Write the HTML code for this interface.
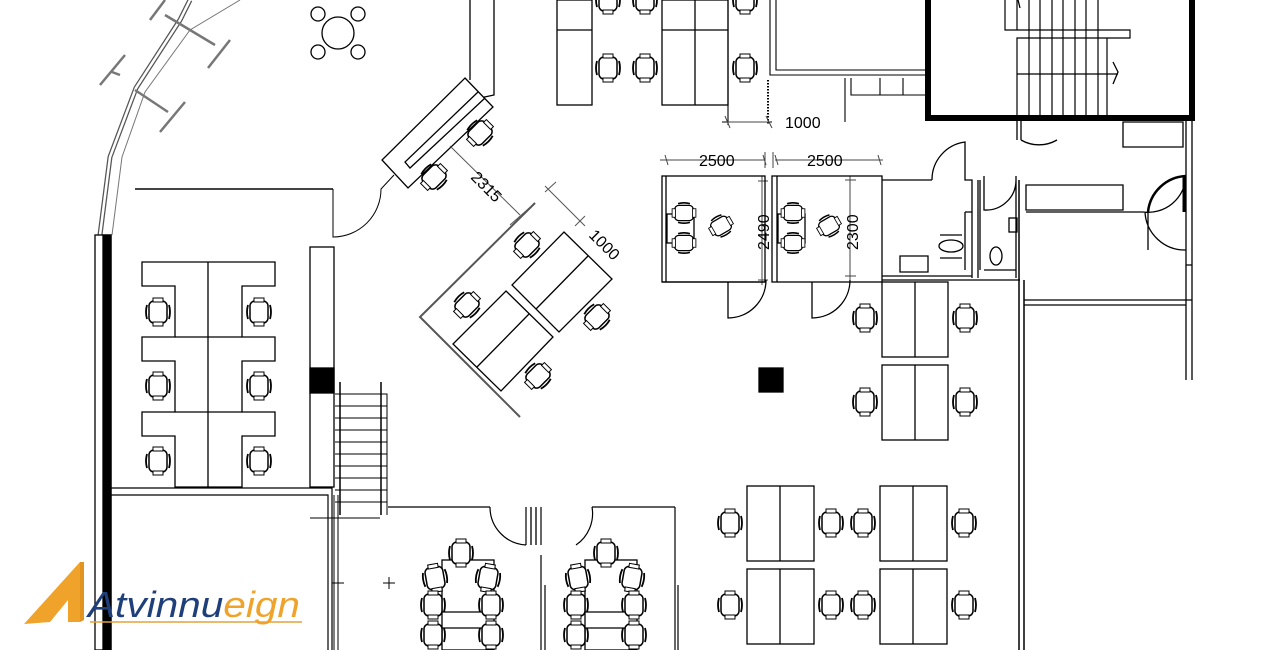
<!DOCTYPE html>
<html><head><meta charset="utf-8"><style>
html,body{margin:0;padding:0;background:#fff;width:1280px;height:650px;overflow:hidden}
svg{display:block}
text{font-family:"Liberation Sans",sans-serif}
</style></head><body>
<svg width="1280" height="650" viewBox="0 0 1280 650" xmlns="http://www.w3.org/2000/svg">
<defs>
<g id="c"><rect x="-9" y="-11" width="18" height="22" rx="5" fill="#fff" stroke="#000" stroke-width="1.5"/><path d="M-11,-7 Q-13,0 -11,7 M11,-7 Q13,0 11,7" fill="none" stroke="#000" stroke-width="1.8"/><rect x="-5" y="-14" width="10" height="4" fill="#fff" stroke="#000" stroke-width="1"/><rect x="-5" y="10" width="10" height="4" fill="#fff" stroke="#000" stroke-width="1"/></g>
<g id="ti"><path d="M-6,0 L6,0 M0,-6 L0,6" stroke="#000" stroke-width="1"/></g>
</defs>
<g fill="none" stroke="#000" stroke-width="1.3">
<path d="M190,0 L180,20 L136,88 L110,157 L100,235" stroke="#555" stroke-width="5"/>
<path d="M190,0 L180,20 L136,88 L110,157 L100,235" stroke="#fff" stroke-width="2.5"/>
<path d="M240,0 L190,30 L145,92 L122,157 L112,235" stroke="#777" stroke-width="1"/>
<rect x="95" y="235" width="16" height="415" fill="#fff" stroke="#000"/>
<rect x="103" y="235" width="8" height="415" fill="#000"/>
<path d="M150,20 L165,0 M165,15 L215,45 M208,68 L230,40 M100,85 L125,55 M112,72 L120,75 M135,90 L168,112 M160,132 L185,102" stroke="#777" stroke-width="2.5"/>
<circle cx="338" cy="33" r="16"/>
<circle cx="318" cy="14" r="7"/><circle cx="358" cy="14" r="7"/><circle cx="318" cy="52" r="7"/><circle cx="358" cy="52" r="7"/>
<path d="M135,189 L333,189" stroke="#444" stroke-width="2"/>
<path d="M333,189 L333,237 A48,48 0 0 0 381,189 L394,175" stroke-width="1"/>
<path d="M470,0 L470,80 M494,0 L494,95 L480,98" />
<polygon points="465,78 493,107 408,188 382,160" fill="#fff"/>
<path d="M478,92 L405,162 L410,168 L485,98"/>
<use href="#c" transform="translate(480,133) rotate(45)"/>
<use href="#c" transform="translate(434,177) rotate(45)"/>
<path d="M450,146 L520,215 M545,186 L585,226" stroke="#555" stroke-width="1"/>
<path d="M510,225 L535,203 M545,192 L556,182 M575,226 L585,216" stroke="#555" stroke-width="1"/>
<path d="M535,203 L420,317 L520,417" stroke="#555" stroke-width="2"/>
<polygon points="564,232 612,279 559,332 512,285" fill="#fff"/>
<path d="M588,256 L536,309"/>
<polygon points="506,291 553,337 501,391 453,344" fill="#fff"/>
<path d="M529,314 L477,367"/>
<use href="#c" transform="translate(527,245) rotate(45)"/>
<use href="#c" transform="translate(467,305) rotate(45)"/>
<use href="#c" transform="translate(597,317) rotate(45)"/>
<use href="#c" transform="translate(538,376) rotate(45)"/>
<path d="M142,262 H275 V286 H242 V337 H275 V361 H242 V412 H275 V436 H242 V487 H175 V436 H142 V412 H175 V361 H142 V337 H175 V286 H142 Z" fill="#fff"/>
<path d="M208,262 V487 M175,337 H242 M175,412 H242"/>
<use href="#c" transform="translate(158,312)"/><use href="#c" transform="translate(259,312)"/>
<use href="#c" transform="translate(158,386)"/><use href="#c" transform="translate(259,386)"/>
<use href="#c" transform="translate(158,461)"/><use href="#c" transform="translate(259,461)"/>
<rect x="310" y="247" width="24" height="240" fill="#fff"/>
<rect x="310" y="368" width="24" height="25" fill="#000"/>
<path d="M335,394 H387 V515 M335,406 H387 M335,418 H387 M335,430 H387 M335,442 H387 M335,454 H387 M335,466 H387 M335,478 H387 M335,490 H387 M335,502 H387" stroke-width="1"/>
<path d="M340,382 V515 M381,382 V515" stroke-width="1.5"/>
<path d="M310,518 H380" stroke-width="1"/>
<path d="M111,488 H332 V650 M111,495 H328 V650" stroke-width="1.2"/>
<path d="M334,495 V650 M338,495 V650" stroke-width="1"/>
<path d="M388,507 H490 M490,507 A38,38 0 0 0 526,545 M526,507 V545 M541,507 V545 M576,545 A38,38 0 0 0 592,507 M592,507 H675 M675,507 V650 M541,555 V650 M545,585 V650 M678,585 V650" stroke-width="1.2"/>
<path d="M531,507 V545 M536,507 V545"/>
<rect x="442" y="560" width="52" height="90" fill="#fff"/>
<rect x="585" y="560" width="52" height="90" fill="#fff"/>
<path d="M442,612 H494 M442,628 H494 M585,612 H637 M585,628 H637"/>
<use href="#c" transform="translate(461,553)"/><use href="#c" transform="translate(606,553)"/>
<use href="#c" transform="translate(435,578) rotate(-10)"/><use href="#c" transform="translate(488,578) rotate(10)"/>
<use href="#c" transform="translate(433,605)"/><use href="#c" transform="translate(491,605)"/>
<use href="#c" transform="translate(433,635)"/><use href="#c" transform="translate(491,635)"/>
<use href="#c" transform="translate(578,578) rotate(-10)"/><use href="#c" transform="translate(632,578) rotate(10)"/>
<use href="#c" transform="translate(576,605)"/><use href="#c" transform="translate(634,605)"/>
<use href="#c" transform="translate(576,635)"/><use href="#c" transform="translate(634,635)"/>
<use href="#ti" transform="translate(338,583)"/><use href="#ti" transform="translate(389,583)"/>
<rect x="557" y="0" width="35" height="105" fill="#fff"/><path d="M557,30 H592"/>
<rect x="662" y="0" width="66" height="105" fill="#fff"/><path d="M695,0 V105 M662,30 H728"/>
<use href="#c" transform="translate(608,0)"/><use href="#c" transform="translate(645,0)"/><use href="#c" transform="translate(745,0)"/>
<use href="#c" transform="translate(608,68)"/><use href="#c" transform="translate(645,68)"/><use href="#c" transform="translate(745,68)"/>
<path d="M768,80 V125" stroke-dasharray="1.5,1.5" stroke-width="2"/>
<path d="M728,0 V125 M722,122 H772 M770,0 V75 H925 M776,0 V70 H925 M845,78 V122 M851,78 V95 H925 M880,78 V95 M903,78 V95" stroke-width="1.1"/>
<rect x="928" y="-5" width="264" height="123" stroke-width="6"/>
<path d="M1005,0 V30 H1130 V38 H1017 V115 M1029,0 V115 M1040,0 V115 M1052,0 V115 M1063,0 V115 M1075,0 V115 M1086,0 V115 M1098,0 V115 M1107,38 V115 M1017,74 H1118 M1017,0 V30 M1040,0 V30" stroke-width="1.2"/>
<path d="M1113,62 L1118,72 L1113,84 M1018,0 L1020,8"/>
<g stroke-width="1" stroke="#444">
<path d="M660,160 H765 M775,160 H883 M665,155 L668,165 M763,155 L766,165 M775,155 L778,165 M878,155 L881,165 M765,152 V168 M773,152 V168 M770,122 L728,122 M725,116 L730,128 M766,116 L772,128"/>
<path d="M762,176 V285 M758,181 L768,181 M758,280 L768,280 M850,176 V280 M845,180 L856,180 M845,276 L856,276"/>
</g>
<rect x="662" y="176" width="103" height="106"/>
<path d="M666,176 V282 M662,282 H765 M728,282 V318 A38,38 0 0 0 766,280"/>
<rect x="772" y="176" width="110" height="106"/>
<path d="M777,176 V282 M812,282 V318 A38,38 0 0 0 850,280"/>
<rect x="667" y="214" width="27" height="29"/><rect x="778" y="214" width="27" height="29"/>
<use href="#c" transform="translate(684,213) rotate(90) scale(0.85)"/><use href="#c" transform="translate(684,243) rotate(90) scale(0.85)"/>
<use href="#c" transform="translate(721,226) rotate(60) scale(0.85)"/>
<use href="#c" transform="translate(793,213) rotate(90) scale(0.85)"/><use href="#c" transform="translate(793,243) rotate(90) scale(0.85)"/>
<use href="#c" transform="translate(829,226) rotate(60) scale(0.85)"/>
<path d="M882,180 H932 M932,180 A38,38 0 0 1 965,142 V180 H972 V278 M978,180 V278 M882,280 H1020 M882,276 H972 M984,176 V210 A30,30 0 0 0 1016,180 M1016,176 V278 M984,270 H1016 M980,180 V270"/>
<path d="M965,212 V270 M972,212 H965 M900,256 H928 V272 H900 Z"/>
<ellipse cx="951" cy="246" rx="12" ry="6"/><path d="M940,235 H962 M940,258 H962"/>
<ellipse cx="996" cy="256" rx="6" ry="9"/><rect x="1009" y="218" width="8" height="14"/>
<path d="M1017,118 V140 M1021,118 V140 M1021,140 A36,36 0 0 0 1057,140 M1123,122 H1183 V147 H1123 Z M1186,118 V380 M1192,118 V380 M1026,185 V210 H1123 V185 Z M1026,212 H1143 M1143,212 A38,38 0 0 0 1186,176 M1148,212 V250 M1145,212 A40,40 0 0 0 1186,250 M1024,300 H1186 M1024,305 H1186 M1186,265 H1192 M1186,300 H1192"/>
<path d="M1148,212 A40,40 0 0 1 1186,176" stroke-width="2.5"/>
<path d="M1184,176 V212" stroke-width="3"/>
<path d="M1019,180 V650 M1024,280 V650" stroke-width="1.5"/>
<rect x="759" y="368" width="24" height="24" fill="#000"/>
<rect x="882" y="282" width="66" height="75" fill="#fff"/><path d="M915,282 V357"/>
<rect x="882" y="365" width="66" height="75" fill="#fff"/><path d="M915,365 V440"/>
<use href="#c" transform="translate(865,318)"/><use href="#c" transform="translate(965,318)"/>
<use href="#c" transform="translate(865,402)"/><use href="#c" transform="translate(965,402)"/>
<rect x="747" y="486" width="67" height="75" fill="#fff"/><path d="M780,486 V561"/>
<rect x="747" y="569" width="67" height="75" fill="#fff"/><path d="M780,569 V644"/>
<rect x="880" y="486" width="67" height="75" fill="#fff"/><path d="M913,486 V561"/>
<rect x="880" y="569" width="67" height="75" fill="#fff"/><path d="M913,569 V644"/>
<use href="#c" transform="translate(730,523)"/><use href="#c" transform="translate(831,523)"/><use href="#c" transform="translate(863,523)"/><use href="#c" transform="translate(964,523)"/>
<use href="#c" transform="translate(730,605)"/><use href="#c" transform="translate(831,605)"/><use href="#c" transform="translate(863,605)"/><use href="#c" transform="translate(964,605)"/>
</g>
<g font-size="16" fill="#000">
<text x="785" y="128">1000</text>
<text x="699" y="166">2500</text>
<text x="807" y="166">2500</text>
<text transform="translate(769,250) rotate(-90)">2490</text>
<text transform="translate(858,250) rotate(-90)">2300</text>
<text transform="translate(470,178) rotate(45)">2315</text>
<text transform="translate(588,236) rotate(45)">1000</text>
</g>
<polygon points="24,624 80,562 80,622 68,622 68,600 50,622" fill="#f0a32a"/>
<polygon points="80,562 84,562 84,620 80,622" fill="#e29420"/>
<path d="M90,622 H302" stroke="#e2a43a" stroke-width="1.5"/>
<text x="88" y="617" font-size="36" font-style="italic" fill="#1f3f7a" textLength="212" lengthAdjust="spacingAndGlyphs" font-family="Liberation Sans,sans-serif">Atvinnu<tspan fill="#f0a32a">eign</tspan></text>
</svg>
</body></html>
